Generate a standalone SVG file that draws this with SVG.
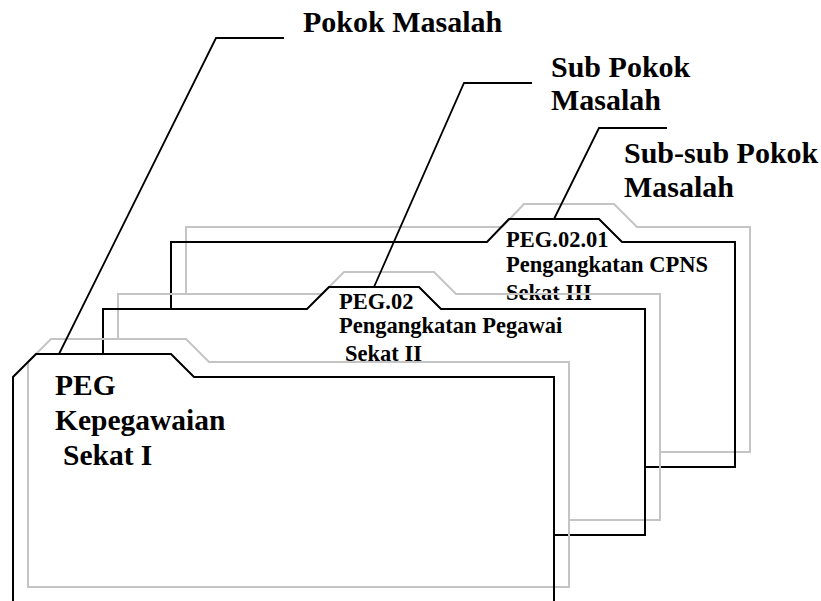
<svg xmlns="http://www.w3.org/2000/svg" width="821" height="601" viewBox="0 0 821 601">
<style>
.blk{fill:none;stroke:#000;stroke-width:2;stroke-linejoin:miter}
.gry{fill:none;stroke:#c4c4c4;stroke-width:2;stroke-linejoin:miter}
.lead{fill:none;stroke:#000;stroke-width:1.8}
text{font-family:"Liberation Serif","Times New Roman",serif;font-weight:bold;fill:#000}
.big{font-size:30px}
.mid{font-size:29.5px}
.sm{font-size:22.5px}
</style>
<rect width="821" height="601" fill="#fff"/>
<g id="folder-3">
<path class="gry" d="M186,294 V227 H502 L524,204 H614 L637,227 H750 V452 H660"/>
<path class="blk" d="M171,309 V242 H487 L509,219 H599 L622,242 H735 V467 H645"/>
<text class="sm" x="506" y="247">PEG.02.01</text>
<text class="sm" x="506" y="272">Pengangkatan CPNS</text>
<text class="sm" x="506" y="300">Sekat III</text>
</g>
<g id="folder-2">
<path class="gry" d="M118,339 V294 H322 L344,272 H434 L456,294 H660 V520 H569"/>
<path class="blk" d="M103,354 V309 H307 L329,287 H419 L441,309 H645 V535 H554"/>
<text class="sm" x="339" y="309">PEG.02</text>
<text class="sm" x="339" y="333">Pengangkatan Pegawai</text>
<text class="sm" x="345" y="361">Sekat II</text>
</g>
<g id="folder-1">
<path class="gry" d="M28,587 V362 L51,339 H186 L209,362 H569 V587 Z"/>
<path class="blk" d="M13,602 V377 L36,354 H171 L194,377 H554 V602"/>
<text class="mid" x="55" y="395">PEG</text>
<text class="mid" x="55" y="430">Kepegawaian</text>
<text class="mid" x="63" y="465">Sekat I</text>
</g>
<g id="label-pokok">
<text class="big" x="303" y="32">Pokok Masalah</text>
</g>
<g id="label-sub">
<text class="big" x="551" y="77">Sub Pokok</text>
<text class="big" x="551" y="110">Masalah</text>
</g>
<g id="label-subsub">
<text class="big" x="624" y="163">Sub-sub Pokok</text>
<text class="big" x="624" y="197">Masalah</text>
</g>
<g id="connectors">
<path class="lead" d="M59,354 L216,38 H284"/>
<path class="lead" d="M374,287 L464,83 H532"/>
<path class="lead" d="M554,219 L599,128 H667"/>
</g>
</svg>
